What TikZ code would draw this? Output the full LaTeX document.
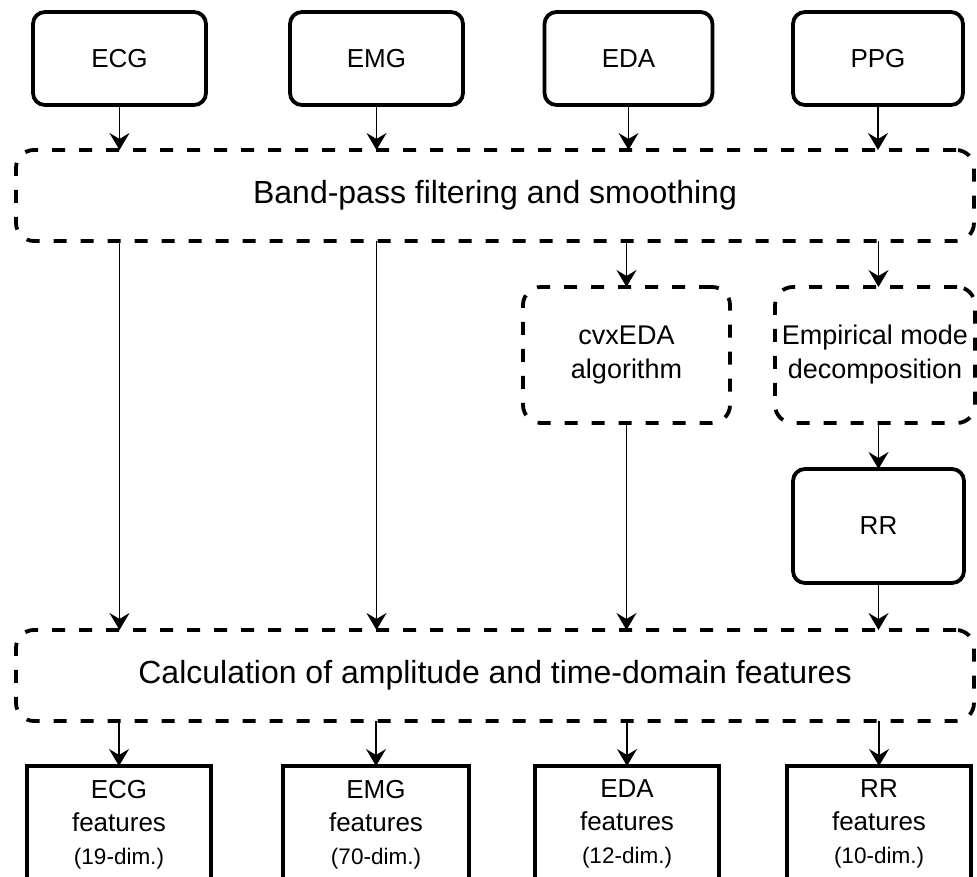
\documentclass[tikz,border=0pt]{standalone}
\usepackage{fontspec}
\setmainfont{Liberation Sans}
\usetikzlibrary{arrows.meta}
\newcommand{\dimsize}{\fontsize{22.5}{33}\selectfont}
\begin{document}
\begin{tikzpicture}[x=1pt,y=-1pt,
  every node/.style={outer sep=0pt, inner sep=0pt, align=center},
  srcbox/.style={draw, line width=3.8pt, rounded corners=12pt, font=\fontsize{26}{32}\selectfont},
  procbox/.style={draw, line width=3.8pt, rounded corners=18pt, dash pattern=on 13pt off 14pt},
  steptext/.style={font=\fontsize{27}{34}\selectfont},
  widetext/.style={font=\fontsize{32}{38}\selectfont},
  featbox/.style={draw, line width=3.8pt},
  feattext/.style={font=\fontsize{26}{33}\selectfont},
  conn/.style={line width=1.7pt, -{Stealth[length=17pt,width=20pt,inset=6pt]}},
]
\useasboundingbox (0,0) rectangle (977,877);
\clip (0,0) rectangle (977,877);

% signal sources
\node[srcbox, minimum width=173pt, minimum height=93pt] (ecg) at (119.5,58.5) {ECG};
\node[srcbox, minimum width=173pt, minimum height=93pt] (emg) at (376.5,58.5) {EMG};
\node[srcbox, minimum width=168pt, minimum height=93pt] (eda) at (628.5,58.5) {EDA};
\node[srcbox, minimum width=170pt, minimum height=93pt] (ppg) at (878,58.5) {PPG};

% common preprocessing
\node[procbox, widetext, minimum width=958pt, minimum height=91pt] (bp) at (495,195.5) {Band-pass filtering and smoothing};

% signal-specific processing
\node[procbox, steptext, minimum width=207pt, minimum height=136pt] (cvx) at (626.5,355) {cvxEDA\\algorithm};
\node[procbox, steptext, minimum width=200pt, minimum height=136pt] (emd) at (875,355) {Empirical mode\\decomposition};
\node[srcbox, minimum width=171pt, minimum height=114pt] (rr) at (878.5,526) {RR};

% feature extraction
\node[procbox, widetext, minimum width=958pt, minimum height=91pt] (calc) at (495,675.5) {Calculation of amplitude and time-domain features};

% feature sets (their lower part runs past the bottom edge)
\node[featbox, minimum width=184pt, minimum height=180pt, anchor=north] (ecgf) at (119,766) {};
\node[featbox, minimum width=186pt, minimum height=180pt, anchor=north] (emgf) at (376,766) {};
\node[featbox, minimum width=184pt, minimum height=180pt, anchor=north] (edaf) at (627,766) {};
\node[featbox, minimum width=184pt, minimum height=180pt, anchor=north] (rrf) at (879,766) {};

\node[feattext, anchor=north] (ecgt) at ([yshift=-14pt]ecgf.north) {ECG\\features\\{\dimsize (19-dim.)}};
\node[feattext, anchor=north] (emgt) at ([yshift=-14pt]emgf.north) {EMG\\features\\{\dimsize (70-dim.)}};
\node[feattext, anchor=north] (edat) at ([yshift=-14pt]edaf.north) {EDA\\features\\{\dimsize (12-dim.)}};
\node[feattext, anchor=north] (rrt) at ([yshift=-14pt]rrf.north) {RR\\features\\{\dimsize (10-dim.)}};

% connectors
\draw[conn] (ecg) -- (ecg |- bp.north);
\draw[conn] (emg) -- (emg |- bp.north);
\draw[conn] (eda) -- (eda |- bp.north);
\draw[conn] (ppg) -- (ppg |- bp.north);

\draw[conn] (bp.south -| ecg) -- (calc.north -| ecg);
\draw[conn] (bp.south -| emg) -- (calc.north -| emg);
\draw[conn] (bp.south -| cvx) -- (cvx);
\draw[conn] (bp.south -| rr) -- (emd.north -| rr);
\draw[conn] (cvx) -- (cvx |- calc.north);
\draw[conn] (emd.south -| rr) -- (rr);
\draw[conn] (rr) -- (rr |- calc.north);

\draw[conn] (calc.south -| ecgf) -- (ecgf);
\draw[conn] (calc.south -| emgf) -- (emgf);
\draw[conn] (calc.south -| edaf) -- (edaf);
\draw[conn] (calc.south -| rrf) -- (rrf);
\end{tikzpicture}
\end{document}
